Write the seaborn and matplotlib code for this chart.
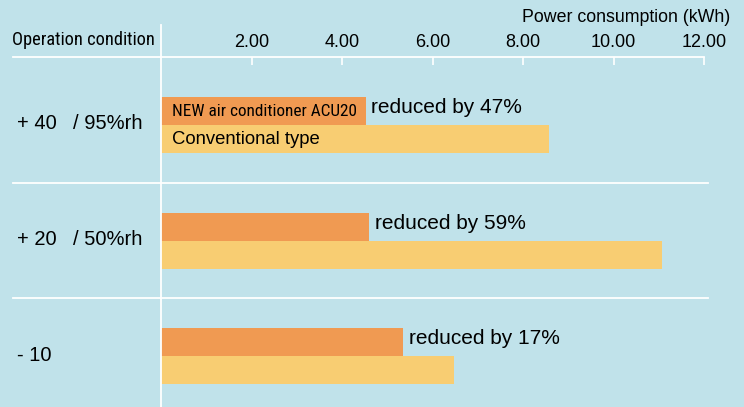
import seaborn as sns
import matplotlib.pyplot as plt
import pandas as pd
from matplotlib import font_manager

# ----------- DATA -----------
conditions = ["+40/95%rh", "+20/50%rh", "-10"]
temp_labels = ["+ 40", "+ 20", "- 10"]
rh_labels = ["/ 95%rh", "/ 50%rh", ""]
new_kwh = [4.52, 4.60, 5.35]
conv_kwh = [8.57, 11.07, 6.48]
reductions = ["reduced by 47%", "reduced by 59%", "reduced by 17%"]
x_ticks = [2, 4, 6, 8, 10, 12]

series_names = ["NEW air conditioner ACU20", "Conventional type"]
colors = ["#f09a52", "#f8cd72"]
bg = "#c0e2ea"

df = pd.DataFrame({
    "condition": conditions * 2,
    "kwh": new_kwh + conv_kwh,
    "type": [series_names[0]] * 3 + [series_names[1]] * 3,
})

# ----------- FONTS -----------
plt.rcParams["font.family"] = ["Liberation Sans", "DejaVu Sans"]

# look for a condensed sans face for the narrow labels
narrow_fp = None
prefs = ["Liberation Sans Narrow", "Roboto Condensed", "Noto Sans", "DejaVu Sans",
         "Open Sans", "Roboto", "Inter"]
cands = [f for f in font_manager.fontManager.ttflist
         if (f.stretch in ("condensed", "semi-condensed", "extra-condensed", 600, 700)
             or "Narrow" in f.name or "Condensed" in f.name
             or "Condensed" in f.fname or "Narrow" in f.fname)
         and f.style == "normal" and f.weight in (400, "normal", "regular")]
for p in prefs:
    hit = [f for f in cands if f.name.startswith(p)]
    if hit:
        narrow_fp = font_manager.FontProperties(fname=hit[0].fname)
        break
if narrow_fp is None:
    narrow_fp = font_manager.FontProperties(family="Liberation Sans")
    narrow_scale = 0.82
else:
    narrow_scale = 1.0

# ----------- PLOT -----------
fig = plt.figure(figsize=(7.44, 4.07), dpi=100, facecolor=bg)
ax = fig.add_axes([161 / 744, 0, 543 / 744, 350 / 407])
ax.set_facecolor(bg)

sns.barplot(data=df, y="condition", x="kwh", hue="type", orient="h",
            palette=colors, width=0.485, saturation=1, ax=ax,
            legend=False, linewidth=0)

ax.set_xlim(0, 12)
ax.set_ylim(2.44, -0.59)
ax.set_xlabel("")
ax.set_ylabel("")
ax.set_yticks([])
ax.set_xticks(x_ticks)
ax.set_xticklabels([f"{v:.2f}" for v in x_ticks], fontsize=13)
ax.xaxis.tick_top()
ax.tick_params(axis="x", direction="in", length=5.5, width=1.2,
               color="white", pad=4)

for s in ["bottom", "right", "left", "top"]:
    ax.spines[s].set_visible(False)

# white frame lines
line_kw = dict(color="white", lw=1.3, clip_on=False)
ax.plot([-0.272, 1.0], [1, 1], transform=ax.transAxes, **line_kw)
ax.plot([0, 0], [0, 1.092], transform=ax.transAxes, **line_kw)
for y in [0.5, 1.5]:
    ax.axhline(y, xmin=-0.272, xmax=1.008, **line_kw)

# row labels
tr = ax.get_yaxis_transform()
for i, (t, r) in enumerate(zip(temp_labels, rh_labels)):
    ax.text(-0.265, i - 0.01, t, transform=tr, fontsize=14.5, va="center")
    ax.text(-0.162, i - 0.01, r, transform=tr, fontsize=14.5, va="center")

# reduction annotations
off = 0.485 / 4
for i, (v, txt) in enumerate(zip(new_kwh, reductions)):
    ax.text(v + 0.13, i - off - 0.03, txt, fontsize=15, va="center")

# in-bar series labels
nfp = narrow_fp.copy()
nfp.set_size(12.4 * narrow_scale)
ax.text(0.25, -off, series_names[0], fontproperties=nfp, va="center")
ax.text(0.25, off, series_names[1], fontsize=13.3, va="center")

ofp = narrow_fp.copy()
ofp.set_size(13.2 * narrow_scale)
fig.text(12 / 744, 1 - 40 / 407, "Operation condition", fontproperties=ofp,
         va="center")
fig.text(730 / 744, 1 - 18 / 407, "Power consumption (kWh)", fontsize=12.8,
         ha="right", va="center")

fig.savefig("out.png", dpi=100, facecolor=bg)
